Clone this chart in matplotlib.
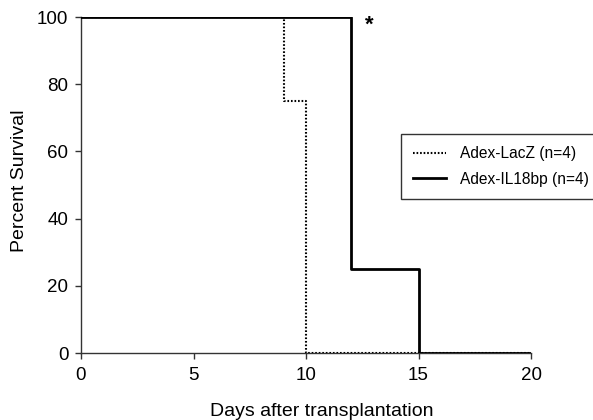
import matplotlib
matplotlib.use("Agg")
import matplotlib.pyplot as plt

plt.rcParams['font.family'] = ['Liberation Sans', 'DejaVu Sans']

# Data (step survival curves)
lacz_days = [0, 9, 10, 20]
lacz_surv = [100, 75, 0, 0]
il18_days = [0, 12, 15, 20]
il18_surv = [100, 25, 0, 0]
x_ticks = [0, 5, 10, 15, 20]
y_ticks = [0, 20, 40, 60, 80, 100]
labels = ["Adex-LacZ (n=4)", "Adex-IL18bp (n=4)"]

W, H = 593, 420
fig = plt.figure(figsize=(W/100, H/100), dpi=100)
ax = fig.add_axes([81/W, 1-353/H, 450/W, 336/H])

ax.step(il18_days, il18_surv, where='post', color='black', lw=2.0, label=labels[1], zorder=3)
ax.step(lacz_days, lacz_surv, where='post', color='black', lw=1.5, linestyle=(0, (0.8, 0.9)), label=labels[0], zorder=4)

ax.set_xlim(0, 20)
ax.set_ylim(0, 100)
ax.set_xticks(x_ticks)
ax.set_yticks(y_ticks)
ax.spines['top'].set_visible(False)
ax.spines['right'].set_visible(False)
for s in ['left', 'bottom']:
    ax.spines[s].set_linewidth(1.0)
    ax.spines[s].set_color('#333333')
ax.tick_params(direction='out', length=4, width=1, labelsize=13.5, colors='#333333', labelcolor='black')
ax.tick_params(axis='x', pad=6)
ax.tick_params(axis='y', pad=5)

fig.text(322/W, 1-416/H, "Days after transplantation", fontsize=14,
         ha='center', va='baseline')
fig.text(20/W, 1-181/H, "Percent Survival", fontsize=14, rotation=90,
         ha='center', va='center')

ax.text(12.8, 97.5, "*", fontsize=16, ha='center', va='center', fontweight='bold')

h, l = ax.get_legend_handles_labels()
order = [1, 0]
leg = fig.legend([h[i] for i in order], [l[i] for i in order],
                 loc='upper left', bbox_to_anchor=(401/W, 1-134/H),
                 frameon=True, fancybox=False, fontsize=11.2,
                 handlelength=2.1, borderpad=0.8, labelspacing=0.65,
                 handletextpad=0.9, borderaxespad=0)
leg.get_frame().set_edgecolor('black')
leg.get_frame().set_linewidth(1.0)

fig.savefig("out.png", dpi=100)
